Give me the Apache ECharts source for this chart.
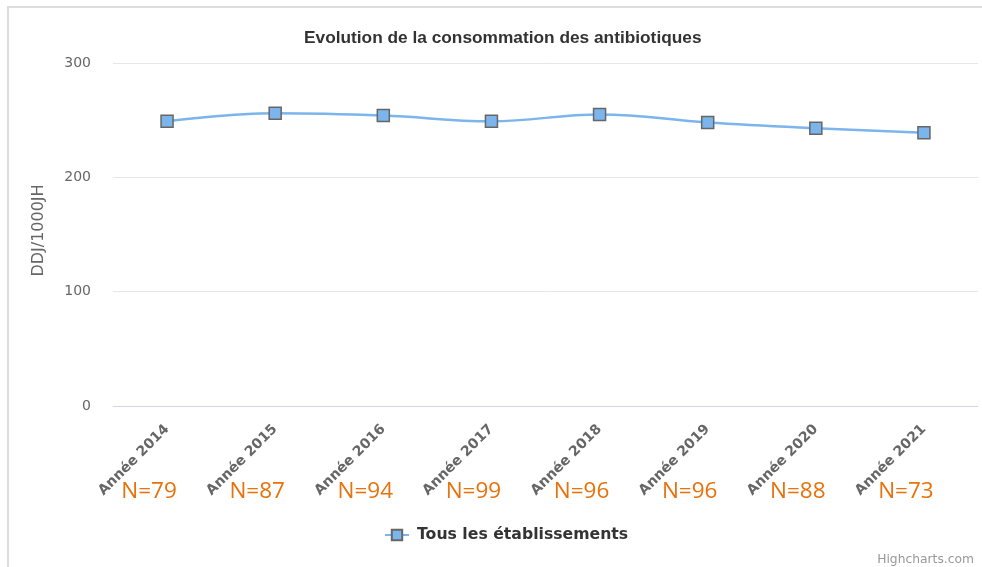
<!DOCTYPE html>
<html>
<head>
<meta charset="utf-8">
<title>Evolution de la consommation des antibiotiques</title>
<script src="https://cdn.jsdelivr.net/npm/echarts@6/dist/echarts.min.js"></script>
<style>
    body { margin: 0; background: #fff; }
    #wrap { position: relative; width: 982px; height: 567px; }
    #antibioChart { width: 982px; height: 567px; }
    .cadre { position: absolute; top: 6px; left: 7px; right: 0; bottom: 0;
             border-top: 2px solid #dddddd; border-left: 2px solid #dddddd; pointer-events: none; }
</style>
</head>
<body>
<div id="wrap">
    <div id="antibioChart"></div>
    <div class="cadre"></div>
</div>
<script>
// donnees
var annees = ['Année 2014', 'Année 2015', 'Année 2016', 'Année 2017', 'Année 2018', 'Année 2019', 'Année 2020', 'Année 2021'];
var ddj = [249, 256, 254, 249, 255, 248, 243, 239];
var nbEtab = ['N=79', 'N=87', 'N=94', 'N=99', 'N=96', 'N=96', 'N=88', 'N=73'];
var serieNom = 'Tous les établissements';

var chart = document.getElementById('antibioChart');
var echart = echarts.init(chart);

var options = {
    animation: false,
    title: [{
        text: 'Evolution de la consommation des antibiotiques',
        left: 299,
        top: 25,
        textStyle: { fontFamily: 'Liberation Sans', fontSize: 17.3, fontWeight: 'bold', color: '#333333' }
    }, {
        text: 'Highcharts.com',
        right: 3,
        top: 549,
        textStyle: { fontFamily: 'DejaVu Sans', fontSize: 12.3, fontWeight: 'normal', color: '#999999' }
    }],
    legend: {
        data: [serieNom],
        left: 379,
        top: 522,
        itemWidth: 24,
        itemHeight: 13,
        textStyle: { fontFamily: 'DejaVu Sans', fontSize: 15.7, fontWeight: 'bold', color: '#333333', padding: [0, 0, 0, 3] }
    },
    grid: { left: 113, right: 4, top: 63, bottom: 161 },
    xAxis: [{
        type: 'category',
        data: annees,
        boundaryGap: true,
        axisLine: { lineStyle: { color: '#ccd6eb' } },
        axisTick: { show: false },
        axisLabel: {
            rotate: 45,
            margin: 21,
            interval: 0,
            fontFamily: 'DejaVu Sans',
            fontSize: 14,
            fontWeight: 'bold',
            color: '#666666'
        }
    }, {
        type: 'category',
        data: nbEtab,
        position: 'bottom',
        offset: 66,
        axisLine: { show: false },
        axisTick: { show: false },
        splitLine: { show: false },
        axisLabel: {
            margin: 8,
            interval: 0,
            padding: [0, 36, 0, 0],
            fontFamily: 'Open Sans',
            fontSize: 22.5,
            color: '#e8710a'
        }
    }],
    yAxis: {
        type: 'value',
        min: 0,
        max: 300,
        interval: 100,
        name: 'DDJ/1000JH',
        nameLocation: 'middle',
        nameGap: 66,
        nameTextStyle: { fontFamily: 'DejaVu Sans', fontSize: 16, color: '#666666', padding: [0, 0, 0, 8] },
        axisLine: { show: false },
        axisTick: { show: false },
        splitLine: { lineStyle: { color: '#e6e6e6' } },
        axisLabel: { margin: 22, fontFamily: 'DejaVu Sans', fontSize: 14, color: '#666666' }
    },
    series: [{
        name: serieNom,
        type: 'line',
        data: ddj,
        smooth: 0.4,
        symbol: 'rect',
        symbolSize: 12,
        lineStyle: { color: '#7cb5ec', width: 2.5 },
        itemStyle: { color: '#7cb5ec', borderColor: '#666666', borderWidth: 1.5 }
    }]
};

echart.setOption(options);
window.onresize = function () {
    echart.resize();
};
</script>
</body>
</html>
